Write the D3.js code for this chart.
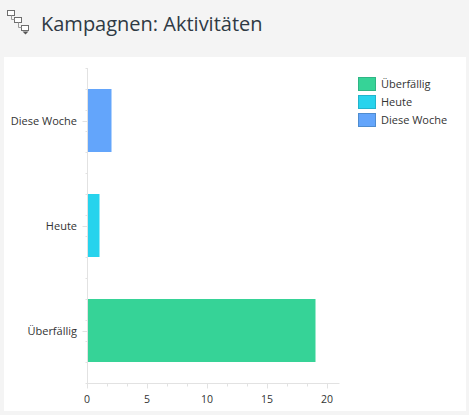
<!DOCTYPE html>
<html><head><meta charset="utf-8">
<script src="https://d3js.org/d3.v7.min.js"></script>
<style>html,body{margin:0;padding:0;background:#f4f4f4;overflow:hidden}svg{display:block}text{font-family:"Open Sans",sans-serif}</style>
</head><body><svg id="c" width="469" height="415"></svg>
<script>
const title = "Kampagnen: Aktivitäten";
const categories = ["Diese Woche","Heute","Überfällig"];
const values = [2,1,19];
const colors = ["#63a5fb","#27d3ed","#36d397"];
const borders = ["#4f8ccf","#22b4cc","#2fb585"];
const legendOrder = ["Überfällig","Heute","Diese Woche"];
const xMajor = [0,5,10,15,20];
const xDomain = [0,21];

const svg = d3.select("#c");
svg.append("rect").attr("x",0).attr("y",0).attr("width",469).attr("height",415).attr("fill","#f4f4f4");
svg.append("rect").attr("x",4).attr("y",57).attr("width",462).attr("height",354).attr("fill","#fff");

// header icon
const icon = svg.append("g").attr("fill","#fff").attr("stroke","#6e6e6e").attr("stroke-width",1);
[[7,10],[14,17],[21,25]].forEach(([a,b])=>icon.append("rect").attr("x",a+0.5).attr("y",b+0.5).attr("width",7).attr("height",5));
icon.append("path").attr("fill","none").attr("stroke","#9a9a9a").attr("d","M11.5 15.5V19.5H14.5M18.5 22.5V27.5H21.5");
icon.append("path").attr("fill","#555").attr("stroke","none").attr("d","M22.5 31.5h6l-3 3z");
svg.append("text").attr("x",41).attr("y",31).attr("font-size",20).attr("fill","#2f3a44").text(title);

const x = d3.scaleLinear().domain(xDomain).range([87.5,339.5]);
const y = d3.scaleBand().domain(categories).range([68,383]).paddingInner(0.4).paddingOuter(0.2);

svg.selectAll("rect.bar").data(categories).join("rect").attr("class","bar")
  .attr("x",x(0)).attr("y",d=>y(d)).attr("height",y.bandwidth())
  .attr("width",(d,i)=>x(values[i])-x(0)).attr("fill",(d,i)=>colors[i]);

const axisCol = "#e2e2e2";
const minorX = d3.range(xDomain[0],xDomain[1]+0.001,5/3);
const gx = svg.append("g").attr("transform","translate(0,383.5)");
gx.append("line").attr("x1",x(0)-0.5).attr("x2",x(xDomain[1])).attr("stroke",axisCol);
gx.selectAll("line.minor").data(minorX).join("line").attr("class","minor")
  .attr("x1",d=>x(d)).attr("x2",d=>x(d)).attr("y1",0).attr("y2",3).attr("stroke",axisCol);
gx.selectAll("line.major").data(xMajor).join("line").attr("class","major")
  .attr("x1",d=>x(d)).attr("x2",d=>x(d)).attr("y1",0).attr("y2",5).attr("stroke",axisCol);
gx.selectAll("text").data(xMajor).join("text").attr("x",d=>x(d)-0.5).attr("y",19)
  .attr("text-anchor","middle").attr("font-size",10.5).attr("fill","#333").text(d=>d);

const gy = svg.append("g").attr("transform","translate(87.5,0)");
gy.append("line").attr("y1",68).attr("y2",384).attr("stroke",axisCol);
const minorY = d3.range(0,16).map(i=>y.range()[0]+i*y.step()/5);
gy.selectAll("line.minor").data(minorY).join("line").attr("class","minor")
  .attr("y1",d=>Math.round(d)+0.5).attr("y2",d=>Math.round(d)+0.5).attr("x1",-2).attr("x2",0).attr("stroke",axisCol);
gy.selectAll("line.major").data(categories).join("line").attr("class","major")
  .attr("y1",d=>Math.round(y(d)+y.bandwidth()/2)+0.5).attr("y2",d=>Math.round(y(d)+y.bandwidth()/2)+0.5)
  .attr("x1",-5).attr("x2",0).attr("stroke",axisCol);
gy.selectAll("text").data(categories).join("text").attr("x",-10.5)
  .attr("y",d=>y(d)+y.bandwidth()/2+4).attr("text-anchor","end").attr("font-size",11).attr("fill","#333").text(d=>d);

const lg = svg.append("g").selectAll("g").data(legendOrder).join("g")
  .attr("transform",(d,i)=>`translate(358,${77+i*18})`);
lg.append("rect").attr("x",0.5).attr("y",0.5).attr("width",17).attr("height",13)
  .attr("fill",d=>colors[categories.indexOf(d)]).attr("stroke",d=>borders[categories.indexOf(d)]);
lg.append("text").attr("x",23).attr("y",10.5).attr("font-size",11).attr("fill","#333").text(d=>d);
</script></body></html>
